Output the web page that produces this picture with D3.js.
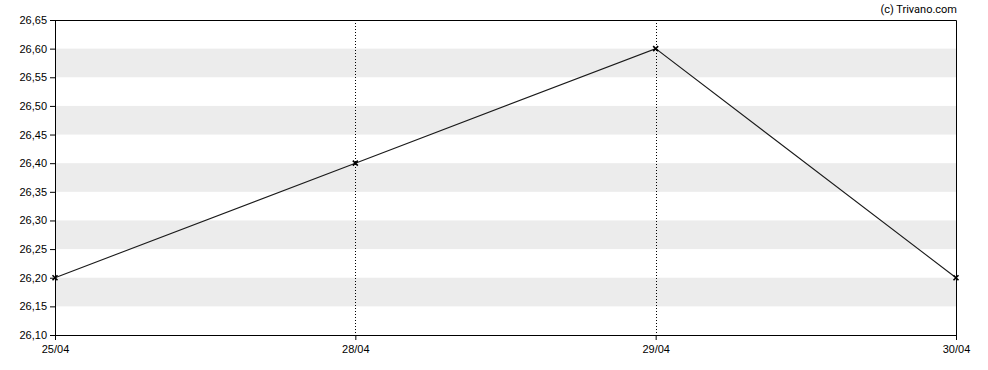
<!DOCTYPE html>
<html>
<head>
<meta charset="utf-8">
<script src="https://cdn.jsdelivr.net/npm/d3@7"></script>
<style>
  body { margin: 0; background: #fff; }
  svg { display: block; font-family: Roboto, "Liberation Sans", sans-serif; }
</style>
</head>
<body>
<div id="chart"></div>
<script>
// dados do gráfico
const datas = ["25/04", "28/04", "29/04", "30/04"];
const valores = [26.20, 26.40, 26.60, 26.20];
const yTicks = [26.10, 26.15, 26.20, 26.25, 26.30, 26.35, 26.40, 26.45, 26.50, 26.55, 26.60, 26.65];

const width = 988;
const height = 370;
const marginTop = 20;
const marginRight = 32;
const marginBottom = 35;
const marginLeft = 55;

const x = d3.scalePoint().domain(datas).range([marginLeft, width - marginRight]);
const y = d3.scaleLinear().domain([26.10, 26.65]).range([height - marginBottom, marginTop]);

const svg = d3.select("#chart")
    .append("svg")
    .attr("width", width)
    .attr("height", height);

// faixas cinzas alternadas
const faixas = yTicks.slice(1, -1).filter((_, i) => i % 2 === 0);
svg.selectAll(".faixa")
    .data(faixas)
    .enter()
    .append("rect")
    .attr("x", marginLeft)
    .attr("width", width - marginRight - marginLeft)
    .attr("y", d => y(d + 0.05))
    .attr("height", d => y(d) - y(d + 0.05))
    .attr("fill", "#ececec");

// linhas verticais pontilhadas
svg.selectAll(".grade")
    .data(datas.slice(1, -1))
    .enter()
    .append("line")
    .attr("x1", d => Math.round(x(d)) + 0.5)
    .attr("x2", d => Math.round(x(d)) + 0.5)
    .attr("y1", marginTop)
    .attr("y2", height - marginBottom)
    .attr("stroke", "#000")
    .attr("stroke-dasharray", "1,2");

// moldura superior e direita
svg.append("path")
    .attr("d", `M${marginLeft},${marginTop + 0.5}H${width - marginRight + 0.5}V${height - marginBottom}`)
    .attr("fill", "none")
    .attr("stroke", "#000");

// linha
const linha = d3.line()
    .x((d, i) => x(datas[i]))
    .y(d => y(d));

svg.append("path")
    .datum(valores)
    .attr("fill", "none")
    .attr("stroke", "#1a1a1a")
    .attr("stroke-width", 1.1)
    .attr("d", linha);

// marcadores em X
svg.selectAll(".ponto")
    .data(valores)
    .enter()
    .append("path")
    .attr("transform", (d, i) => `translate(${x(datas[i])},${y(d)})`)
    .attr("d", "M-2.5,-2.5L2.5,2.5M-2.5,2.5L2.5,-2.5")
    .attr("stroke", "#000")
    .attr("stroke-width", 1.6);

// eixo X
const eixoX = svg.append("g")
    .attr("transform", `translate(0,${height - marginBottom})`)
    .call(d3.axisBottom(x).tickSize(5).tickPadding(5).tickSizeOuter(0));
eixoX.select(".domain").attr("d", `M${marginLeft},0.5H${width - marginRight + 0.5}`);

// eixo Y
const eixoY = svg.append("g")
    .attr("transform", `translate(${marginLeft},0)`)
    .call(d3.axisLeft(y).tickValues(yTicks).tickSize(5).tickPadding(3).tickSizeOuter(0)
        .tickFormat(d => d3.format(".2f")(d).replace(".", ",")));

svg.selectAll(".tick text").attr("fill", "#000").attr("font-size", 11);
svg.selectAll(".domain, .tick line").attr("stroke", "#000");

// copyright
svg.append("text")
    .attr("x", width - marginRight + 1)
    .attr("y", 13)
    .attr("text-anchor", "end")
    .attr("font-size", 11)
    .attr("fill", "#000")
    .text("(c) Trivano.com");
</script>
</body>
</html>
